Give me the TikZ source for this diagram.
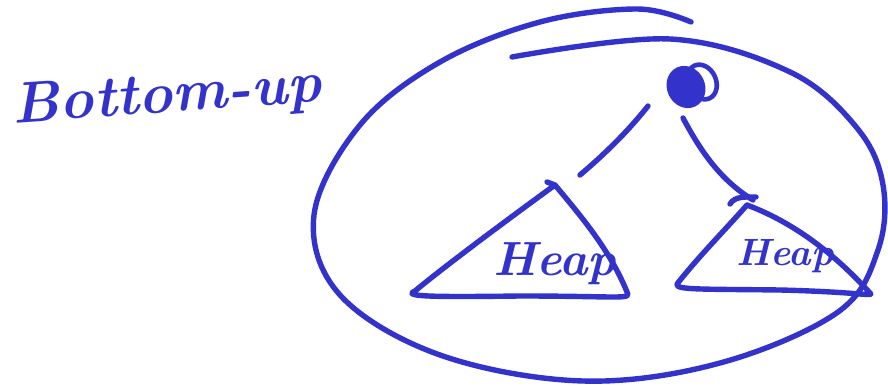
\documentclass[tikz,border=0pt]{standalone}
\usepackage{fontspec}
\usetikzlibrary{calc,shapes.geometric}
\definecolor{ink}{RGB}{51,51,204}
\tikzset{
  pen/.style={draw=ink, line width=5.4pt, line cap=round, line join=round},
  inktext/.style={text=ink, inner sep=0pt},
}
\begin{document}
\begin{tikzpicture}[x=1pt,y=-1pt]
\useasboundingbox (0,0) rectangle (888,387);
% title
\node[inktext, font=\fontsize{58}{58}\selectfont\bfseries\itshape, rotate=4] (title) at (167,98) {Bottom-up};
% big enclosing ellipse (hand drawn)
\draw[pen] plot[smooth, tension=0.6] coordinates {(691,22) (637,9) (540,22) (440,62) (360,125) (314,215) (340,295) (440,355) (583,381) (720,363) (838,312) (878,250) (883,185) (857,128) (790,72) (670,39) (512,57)};
% root
\node[fill=ink, ellipse, minimum width=38pt, minimum height=43pt, inner sep=0pt, rotate=25] (root) at (686,87) {};
\draw[pen, line width=4.6pt, rotate around={25:(702,82)}] (702,82) ellipse[x radius=14, y radius=18];
% left subtree
\coordinate (la) at (555,185);
\coordinate (lbL) at (415,291);
\coordinate (lbR) at (627,292);
\draw[pen] (547,182) -- (la) .. controls (580,215) and (610,250) .. (lbR) .. controls (632,300) and (620,296) .. (520,296) .. controls (440,297) and (400,297) .. (lbL) .. controls (440,270) and (500,225) .. (la);
\node[inktext, font=\fontsize{48}{48}\selectfont\bfseries\itshape] (h1) at (555,264) {Heap};
% right subtree
\coordinate (ra) at (747,205);
\coordinate (rbL) at (677,284);
\coordinate (rbR) at (870,293);
\draw[pen] (730,204) .. controls (735,196) and (745,197) .. (756,197);
\draw[pen] (ra) .. controls (800,225) and (840,260) .. (rbR) .. controls (875,297) and (860,292) .. (780,290) .. controls (700,289) and (675,290) .. (rbL) .. controls (700,255) and (725,230) .. (ra);
\node[inktext, font=\fontsize{38}{38}\selectfont\bfseries\itshape] (h2) at (785,256) {Heap};
% edges
\coordinate (e1s) at (648,106);
\coordinate (e1e) at (580,175);
\draw[pen] (e1s) .. controls (625,135) and (600,158) .. (e1e);
\coordinate (e2s) at (683,118);
\coordinate (e2e) at (753,200);
\draw[pen] (e2s) .. controls (700,150) and (720,180) .. (e2e);
\end{tikzpicture}
\end{document}
